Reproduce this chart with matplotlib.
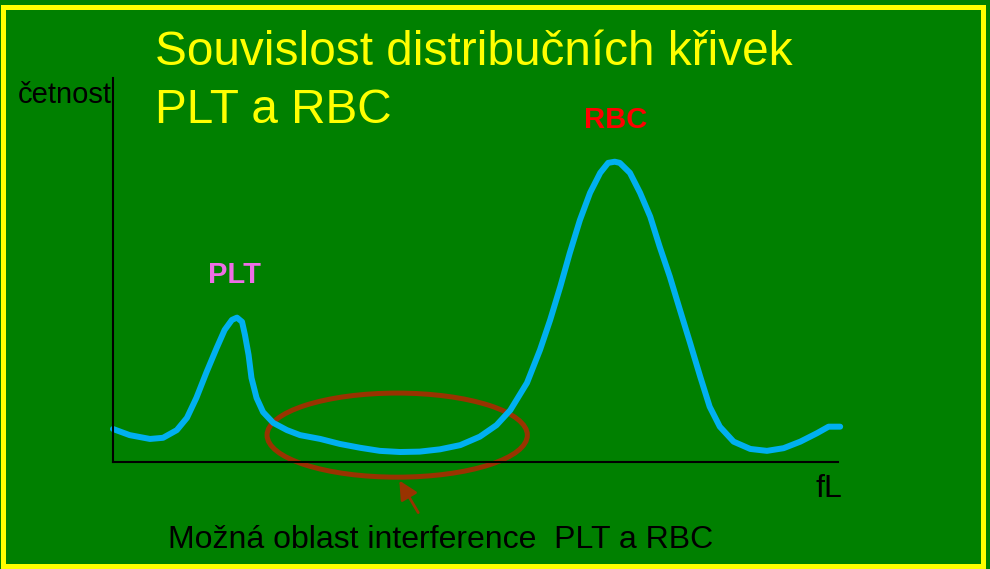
import matplotlib
matplotlib.use("Agg")
import matplotlib.pyplot as plt
from matplotlib.patches import Ellipse, Rectangle

plt.rcParams['font.family'] = ['Liberation Sans', 'DejaVu Sans']

# distribution curve (x: volume, y: frequency, 0-100 scale)
volume = [0.0, 2.3, 5.1, 6.9, 8.8, 10.2, 11.5, 12.9, 14.3, 15.4, 16.4, 17.1, 17.8,
          18.2, 18.7, 19.1, 19.8, 20.7, 22.1, 24.0, 25.8, 28.6, 31.3, 34.1, 36.8,
          39.6, 42.3, 45.1, 47.9, 50.6, 52.9, 54.8, 57.1, 58.9, 60.3, 61.7, 63.0,
          64.4, 65.8, 67.2, 68.3, 69.2, 69.9, 71.3, 72.7, 74.1, 75.4, 76.8, 78.2,
          79.6, 81.0, 82.3, 83.7, 85.6, 87.9, 90.2, 92.5, 94.8, 97.1, 98.7, 100.3]
frequency = [8.6, 7.0, 6.0, 6.3, 8.3, 11.5, 16.7, 23.4, 29.7, 34.4, 37.0, 37.6, 36.5,
             33.1, 27.9, 21.9, 16.7, 13.0, 10.2, 8.3, 7.0, 6.0, 4.7, 3.7, 2.9,
             2.6, 2.7, 3.3, 4.4, 6.6, 9.6, 13.5, 20.6, 29.2, 37.0, 45.7, 54.4,
             63.0, 70.1, 75.3, 77.9, 78.2, 77.9, 75.3, 70.1, 63.9, 56.1, 48.3, 39.6,
             31.0, 22.2, 14.4, 9.2, 5.3, 3.4, 2.9, 3.6, 5.3, 7.5, 9.2, 9.2]

title_lines = ["Souvislost distribučních křivek", "PLT a RBC"]
green = '#008000'
yellow = '#ffff00'

W, H = 990, 569
fig = plt.figure(figsize=(W / 100, H / 100), dpi=100, facecolor=green)
ax = fig.add_axes([113 / W, (H - 462) / H, 725 / W, 384 / H])
ax.set_facecolor('none')
ax.set_xlim(0, 100)
ax.set_ylim(0, 100)
for s in ['top', 'right']:
    ax.spines[s].set_visible(False)
for s in ['left', 'bottom']:
    ax.spines[s].set_color('black')
    ax.spines[s].set_linewidth(1.5)
ax.set_xticks([])
ax.set_yticks([])

ax.plot(volume, frequency, color='#00b0f0', lw=4.3, clip_on=False,
        solid_capstyle='round', solid_joinstyle='round')

# interference region
ax.add_patch(Ellipse((39.2, 7.0), 35.9, 21.9, fill=False, ec='#993300', lw=3.6,
                     clip_on=False))
ax.annotate('', xy=(39.3, -4.2), xytext=(42.3, -13.8),
            arrowprops=dict(arrowstyle='-|>', color='#993300', lw=2,
                            mutation_scale=28), annotation_clip=False)

# labels
fig.text(235 / W, (H - 283) / H, 'PLT', color='#ee6ee6', fontsize=21,
         fontweight='bold', ha='center', va='baseline')
fig.text(616 / W, (H - 128) / H, 'RBC', color='#ff0000', fontsize=21,
         fontweight='bold', ha='center', va='baseline')
fig.text(18 / W, (H - 103) / H, 'četnost', color='black', fontsize=21,
         ha='left', va='baseline')
fig.text(815 / W, (H - 497) / H, 'fL', color='black', fontsize=23,
         ha='left', va='baseline')
fig.text(168 / W, (H - 548) / H, 'Možná oblast interference  PLT a RBC',
         color='black', fontsize=23, ha='left', va='baseline')

fig.text(155 / W, (H - 65) / H, title_lines[0], color=yellow, fontsize=34.4,
         ha='left', va='baseline')
fig.text(155 / W, (H - 123) / H, title_lines[1], color=yellow, fontsize=34.4,
         ha='left', va='baseline')

# yellow frame
fig.add_artist(Rectangle((2.5 / W, 3 / H), 980 / W, 559 / H, fill=False,
                         ec=yellow, lw=3.6, transform=fig.transFigure))

fig.savefig('out.png', dpi=100, facecolor=green)
